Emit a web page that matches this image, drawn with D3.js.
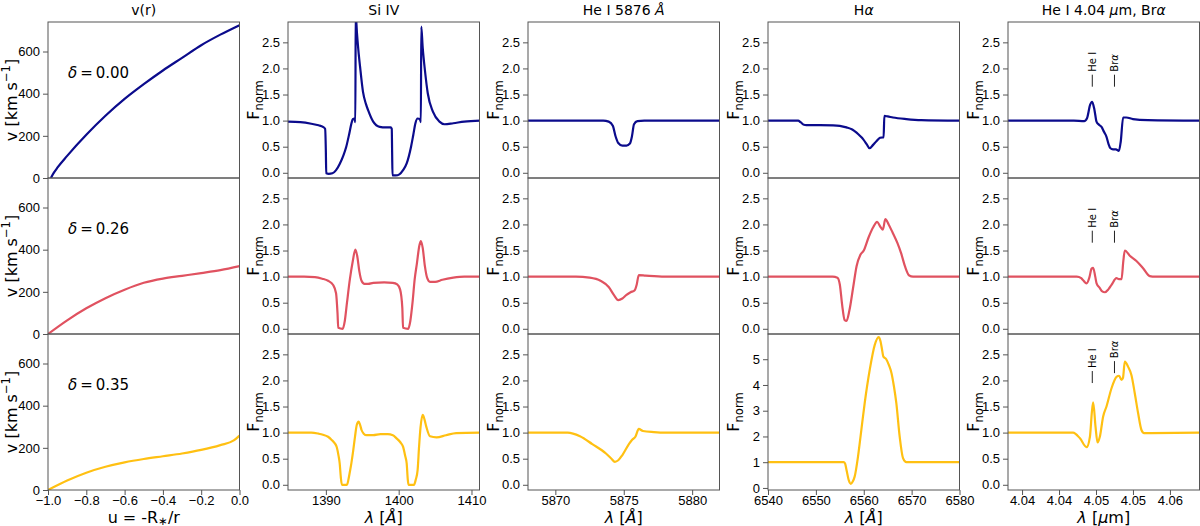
<!doctype html>
<html>
<head>
	<meta charset="utf-8">
	<title>Velocity laws and line profiles</title>
	<script src="https://cdnjs.cloudflare.com/ajax/libs/d3/7.8.5/d3.min.js"></script>
	<style>
		body { margin: 0; background: #fff; }
		svg { font-family: 'DejaVu Sans', sans-serif; }
		.tick text { font-size: 13px; fill: #000; }
		.tick line { stroke: #555; }
		.frame { fill: none; stroke: #555; stroke-width: 1; }
	</style>
</head>
<body>
<script>
	// one row per delta value
	var deltas = ['0.00', '0.26', '0.35'];
	var rowColors = ['#0b0b8c', '#e05260', '#ffc012'];

	// v(r): [u, v in km/s]
	var vel0 = [[-0.985,0],[-0.97,24],[-0.95,50],[-0.9,105],[-0.8,205],[-0.7,295],[-0.6,375],[-0.5,445],[-0.4,510],[-0.3,570],[-0.2,630],[-0.1,680],[0,725]];
	var vel1 = [[-1,0],[-0.9,65],[-0.8,122],[-0.7,170],[-0.6,210],[-0.5,243],[-0.4,263],[-0.3,276],[-0.2,289],[-0.1,303],[0,322]];
	var vel2 = [[-1,0],[-0.9,45],[-0.8,82],[-0.7,110],[-0.6,131],[-0.5,147],[-0.4,160],[-0.3,173],[-0.2,190],[-0.1,213],[-0.03,235],[0,258]];

	// Si IV doublet: [lambda in A, F]
	var si0 = [[1384.8,0.98],[1386.5,0.97],[1388,0.94],[1389,0.91],[1389.6,0.88],[1389.9,0.84],[1390.0,0.4],[1390.05,-0.01],[1390.4,-0.02],[1390.9,-0.01],[1391.4,0.05],[1391.9,0.17],[1392.4,0.33],[1392.8,0.5],[1393.2,0.74],[1393.5,0.94],[1393.7,1.03],[1393.9,1.04],[1394.05,0.97],[1394.1,3.2],[1394.2,2.85],[1394.4,2.45],[1394.7,2.03],[1395.1,1.55],[1395.5,1.32],[1395.8,1.2],[1396.5,0.98],[1397.4,0.88],[1398.2,0.87],[1398.9,0.87],[1399.05,0.84],[1399.1,0.4],[1399.15,-0.05],[1399.6,-0.05],[1400.1,-0.03],[1400.6,0.05],[1401.1,0.18],[1401.7,0.5],[1402.0,0.72],[1402.3,0.95],[1402.6,1.04],[1402.9,1.03],[1403.05,0.97],[1403.1,2.8],[1403.3,2.4],[1403.6,1.97],[1404.0,1.52],[1404.7,1.17],[1405.6,0.98],[1406.3,0.93],[1407.5,0.95],[1409,0.98],[1411.2,1.0]];
	var si1 = [[1384.8,1.0],[1387,1.0],[1388.5,0.99],[1389.5,0.96],[1390.3,0.92],[1391.0,0.84],[1391.4,0.68],[1391.6,0.3],[1391.7,0.02],[1392.3,0.0],[1392.6,0.15],[1392.9,0.5],[1393.3,0.95],[1393.7,1.3],[1394.05,1.52],[1394.3,1.4],[1394.6,1.1],[1394.9,0.92],[1395.3,0.86],[1395.8,0.86],[1396.5,0.88],[1398,0.89],[1399.2,0.88],[1399.8,0.85],[1400.2,0.75],[1400.5,0.4],[1400.6,0.02],[1401.3,0.0],[1401.6,0.15],[1401.9,0.5],[1402.2,0.95],[1402.5,1.25],[1402.85,1.6],[1403.05,1.68],[1403.3,1.55],[1403.6,1.2],[1403.9,0.98],[1404.3,0.9],[1405,0.9],[1406,0.94],[1407.5,0.98],[1409,1.0],[1411.2,1.0]];
	var si2 = [[1384.8,1.0],[1388,1.0],[1389.0,0.98],[1389.6,0.96],[1390.3,0.92],[1390.8,0.86],[1391.2,0.8],[1391.5,0.72],[1391.75,0.55],[1391.9,0.41],[1392.05,0.15],[1392.2,0.0],[1392.9,0.0],[1393.1,0.1],[1393.3,0.25],[1393.5,0.41],[1393.75,0.65],[1394.0,0.92],[1394.25,1.15],[1394.5,1.21],[1394.7,1.15],[1394.9,1.05],[1395.2,0.98],[1395.6,0.95],[1396.5,0.95],[1397.5,0.97],[1398.5,0.97],[1399.2,0.95],[1399.7,0.89],[1400.2,0.82],[1400.6,0.73],[1400.9,0.55],[1401.1,0.41],[1401.25,0.1],[1401.35,0.0],[1402.1,0.0],[1402.35,0.1],[1402.6,0.28],[1402.8,0.73],[1403.0,1.1],[1403.3,1.34],[1403.55,1.25],[1403.8,1.11],[1404.3,0.93],[1405.2,0.91],[1406.5,0.95],[1407.9,0.99],[1411.2,1.0]];

	// He I 5876
	var he0 = [[5868,1],[5873.5,1],[5873.9,0.98],[5874.2,0.9],[5874.4,0.7],[5874.6,0.57],[5874.9,0.52],[5875.2,0.52],[5875.45,0.56],[5875.6,0.7],[5875.75,0.93],[5876.0,0.99],[5876.5,1.0],[5882.2,1]];
	var he1 = [[5868,1],[5871.5,1],[5872.5,0.98],[5873.3,0.92],[5873.9,0.8],[5874.3,0.64],[5874.6,0.55],[5874.9,0.58],[5875.2,0.65],[5875.5,0.7],[5875.8,0.74],[5875.95,0.85],[5876.1,1.03],[5876.6,1.02],[5878,1.0],[5882.2,1]];
	var he2 = [[5868,1],[5870.9,1],[5871.8,0.93],[5872.7,0.78],[5873.7,0.6],[5874.1,0.5],[5874.35,0.44],[5874.6,0.47],[5874.9,0.57],[5875.4,0.79],[5875.6,0.86],[5875.85,0.92],[5876.1,1.07],[5876.4,1.03],[5877.2,1.01],[5878,1.0],[5882.2,1]];

	// H alpha
	var ha0 = [[6540,1],[6546.3,1],[6546.8,0.97],[6547.5,0.92],[6548,0.915],[6553.6,0.91],[6555,0.9],[6556.4,0.87],[6557.6,0.83],[6558.5,0.77],[6559.3,0.7],[6559.9,0.64],[6560.6,0.55],[6561.2,0.47],[6562.0,0.54],[6562.6,0.6],[6563.4,0.67],[6564.0,0.68],[6564.15,0.68],[6564.3,1.09],[6565,1.08],[6566.1,1.06],[6568.9,1.03],[6572,1.01],[6580,1.0]];
	var ha1 = [[6540,1],[6553.5,1],[6554.5,0.98],[6555.0,0.85],[6555.5,0.45],[6556.0,0.17],[6556.4,0.15],[6557.0,0.35],[6557.8,0.8],[6558.5,1.2],[6559.3,1.42],[6560.0,1.5],[6561.0,1.75],[6562.0,1.95],[6562.8,2.05],[6563.5,1.95],[6564.0,1.9],[6564.5,2.1],[6565.2,2.0],[6566.0,1.85],[6567.0,1.65],[6567.8,1.45],[6568.6,1.2],[6569.5,1.02],[6570.3,1.0],[6580,1]];
	var ha2 = [[6540,1],[6555.8,1],[6556.1,0.95],[6556.4,0.7],[6556.9,0.28],[6557.3,0.16],[6557.7,0.25],[6558.1,0.44],[6558.8,1.22],[6559.5,2.26],[6560.2,3.3],[6561.25,4.59],[6562.3,5.56],[6563.1,5.86],[6563.5,5.7],[6563.8,5.4],[6564.1,5.1],[6564.7,5.0],[6565.3,4.75],[6565.8,4.46],[6566.3,3.95],[6566.8,3.3],[6567.5,2.0],[6568.2,1.16],[6568.9,1.0],[6580,1]];

	// He I 4.04 um + Br alpha: [lambda in um, F]
	var br0 = [[4.0381,1],[4.047,1],[4.0484,0.99],[4.0488,1.05],[4.0492,1.3],[4.04948,1.36],[4.0498,1.2],[4.05007,0.98],[4.0504,0.92],[4.05075,0.88],[4.0511,0.78],[4.05142,0.69],[4.0517,0.55],[4.05195,0.47],[4.0523,0.45],[4.0527,0.45],[4.0531,0.42],[4.05335,0.6],[4.05367,1.06],[4.0541,1.06],[4.055,1.03],[4.057,1.01],[4.064,1.0]];
	var br1 = [[4.0381,1],[4.0474,1],[4.048,0.97],[4.04827,0.93],[4.04873,0.87],[4.0491,0.98],[4.0494,1.15],[4.04962,1.17],[4.0499,1.0],[4.05008,0.87],[4.05052,0.78],[4.0508,0.72],[4.0512,0.7],[4.0517,0.76],[4.0521,0.84],[4.05277,0.97],[4.0531,0.95],[4.05345,0.95],[4.0537,1.3],[4.0539,1.5],[4.05457,1.4],[4.05547,1.3],[4.05637,1.16],[4.05727,1.01],[4.058,1.0],[4.064,1.0]];
	var br2 = [[4.0381,1],[4.0469,1],[4.04783,0.89],[4.04873,0.72],[4.04918,0.92],[4.04945,1.4],[4.04962,1.58],[4.04994,1.11],[4.05021,0.81],[4.05052,0.92],[4.05097,1.31],[4.05142,1.5],[4.0521,1.85],[4.05277,2.07],[4.05313,2.09],[4.05345,2.01],[4.05365,2.05],[4.0539,2.36],[4.05435,2.26],[4.0548,2.1],[4.05525,1.75],[4.0557,1.37],[4.05615,1.05],[4.0565,0.99],[4.064,1.0]];

	// line markers in the last column (lambda) and their heights per row
	var markerNames = [[['He I']], [['Br'], ['α', 'i']]];
	var markerLam = [4.0495, 4.0525];
	var markerF = [[1.65, 1.65], [1.65, 1.65], [1.95, 2.14]];

	var panelData = [
		[vel0, si0, he0, ha0, br0],
		[vel1, si1, he1, ha1, br1],
		[vel2, si2, he2, ha2, br2]
	];

	// axes
	var titles = [[['v(r)']], [['Si IV']], [['He I 5876 '], ['Å', 'i']], [['H'], ['α', 'i']], [['He I 4.04 '], ['μ', 'i'], ['m, Br'], ['α', 'i']]];
	var xDomains = [[-1, 0], [1384.8, 1411.1], [5868, 5882], [6540, 6580], [4.0381, 4.064]];
	var xTicks = [[-1, -0.8, -0.6, -0.4, -0.2, 0], [1390, 1400, 1410], [5870, 5875, 5880], [6540, 6550, 6560, 6570, 6580], [4.040, 4.045, 4.050, 4.055, 4.060]];
	var brTickLabels = ['4.04', '4.04', '4.05', '4.05', '4.06'];
	var xLabels = [[['u = -R'], ['∗', 'sub'], ['/r']], [['λ', 'i'], [' ['], ['Å', 'i'], [']']], [['λ', 'i'], [' ['], ['Å', 'i'], [']']], [['λ', 'i'], [' ['], ['Å', 'i'], [']']], [['λ', 'i'], [' ['], ['μ', 'i'], ['m]']]];
	var velTicks = [0, 200, 400, 600];
	var fluxTicks = [0, 0.5, 1, 1.5, 2, 2.5];
	var haBigTicks = [0, 1, 2, 3, 4, 5];

	var colLeft = [48, 288, 528, 768, 1008];
	var rowTop = [22, 178, 334];
	var pw = 191.5, ph = 156;

	var svg = d3.select('body').append('svg')
		.attr('width', 1200)
		.attr('height', 526);

	// writes a list of [text, style] pieces as tspans
	function rich(el, parts, size, subShift) {
		var shift = 0;
		parts.forEach(function (p) {
			var ts = el.append('tspan').text(p[0]);
			var want = 0;
			if (p[1] === 'i') ts.style('font-style', 'italic');
			if (p[1] === 'sub') { want = subShift != null ? subShift : size * 0.28; ts.style('font-size', (size * 0.72) + 'px'); }
			if (p[1] === 'sup') { want = -size * 0.42; ts.style('font-size', (size * 0.72) + 'px'); }
			if (want !== shift) { ts.attr('dy', want - shift); shift = want; }
		});
	}

	var line = d3.line().curve(d3.curveMonotoneX);

	for (var r = 0; r < 3; r++) {
		for (var c = 0; c < 5; c++) {
			var x0 = colLeft[c], y0 = rowTop[r];
			var x = d3.scaleLinear().domain(xDomains[c]).range([x0, x0 + pw]);
			var yDom = c === 0 ? [0, 740] : (r === 2 && c === 3 ? [-0.08, 5.98] : [-0.1, 2.89]);
			var y = d3.scaleLinear().domain(yDom).range([y0 + ph, y0]);
			var g = svg.append('g');
			var clipId = 'clip' + r + c;

			g.append('clipPath').attr('id', clipId)
				.append('rect')
				.attr('x', x0).attr('y', y0).attr('width', pw).attr('height', ph);

			line.x(function (d) { return x(d[0]); }).y(function (d) { return y(d[1]); });
			g.append('path')
				.attr('clip-path', 'url(#' + clipId + ')')
				.attr('d', line(panelData[r][c]))
				.attr('fill', 'none')
				.attr('stroke', rowColors[r])
				.attr('stroke-width', 2.2)
				.attr('stroke-linejoin', 'round');

			// y axis
			var yt = c === 0 ? velTicks : (r === 2 && c === 3 ? haBigTicks : fluxTicks);
			var yFmt = c === 0 || (r === 2 && c === 3) ? d3.format('d') : d3.format('.1f');
			g.append('g')
				.attr('transform', 'translate(' + x0 + ',0)')
				.call(d3.axisLeft(y).tickValues(yt).tickFormat(yFmt).tickSize(5).tickPadding(3))
				.call(function (a) { a.select('.domain').remove(); });

			// x axis only on the bottom row
			if (r === 2) {
				var xFmt = c === 0 ? d3.format('.1f') : (c === 4 ? function (d, i) { return brTickLabels[i]; } : d3.format('d'));
				g.append('g')
					.attr('transform', 'translate(0,' + (y0 + ph) + ')')
					.call(d3.axisBottom(x).tickValues(xTicks[c]).tickFormat(xFmt).tickSize(5).tickPadding(1))
					.call(function (a) { a.select('.domain').remove(); });

				var xl = g.append('text')
					.attr('x', x0 + pw / 2).attr('y', 523)
					.attr('text-anchor', 'middle')
					.style('font-size', '16px');
				rich(xl, xLabels[c], 16, 1.5);
			}

			// frame
			g.append('rect').attr('class', 'frame')
				.attr('x', x0).attr('y', y0).attr('width', pw).attr('height', ph);

			// y label
			var yl = g.append('text')
				.attr('transform', 'translate(' + (c === 0 ? x0 - 31 : x0 - 29) + ',' + (y0 + ph / 2) + ') rotate(-90)')
				.attr('text-anchor', 'middle')
				.style('font-size', '16px');
			if (c === 0) rich(yl, [['v [km s'], ['−1', 'sup'], [']']], 16);
			else rich(yl, [['F'], ['norm', 'sub']], 16);

			// delta label
			if (c === 0) {
				var dl = g.append('text')
					.attr('x', x0 + 20).attr('y', y0 + 56)
					.style('font-size', '15px');
				rich(dl, [['δ', 'i'], ['\u2009=\u2009' + deltas[r]]], 15);
			}

			// He I / Br alpha markers
			if (c === 4) {
				markerLam.forEach(function (lam, k) {
					var mx = x(lam), my = y(markerF[r][k]);
					g.append('line')
						.attr('x1', mx).attr('x2', mx)
						.attr('y1', my).attr('y2', my - 12)
						.attr('stroke', '#222').attr('stroke-width', 1);
					var mt = g.append('text')
						.attr('transform', 'translate(' + (mx + 3.5) + ',' + (my - 15) + ') rotate(-90)')
						.style('font-size', '10px');
					rich(mt, markerNames[k], 10);
				});
			}

			// column titles
			if (r === 0) {
				var tt = g.append('text')
					.attr('x', x0 + pw / 2).attr('y', 15)
					.attr('text-anchor', 'middle')
					.style('font-size', '14px');
				rich(tt, titles[c], 14);
			}
		}
	}
</script>
</body>
</html>
